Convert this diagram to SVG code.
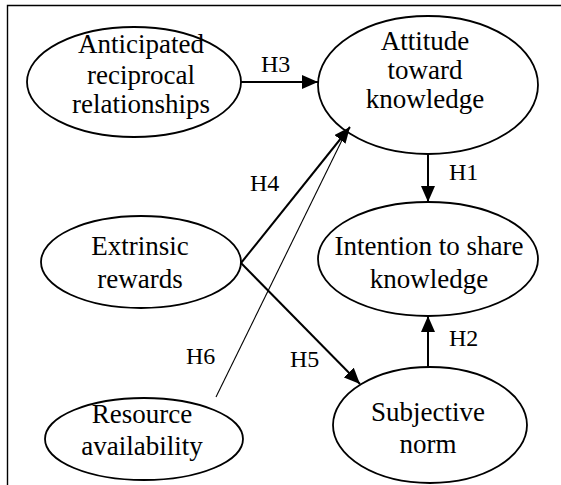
<svg xmlns="http://www.w3.org/2000/svg" width="561" height="485" viewBox="0 0 561 485">
<defs>
<marker id="ah" markerWidth="16" markerHeight="14" refX="16" refY="7" orient="auto" markerUnits="userSpaceOnUse">
<path d="M0,0 L16,7 L0,14 Z" fill="#000"/>
</marker>
<style>
.node ellipse{fill:#fff;stroke:#000;stroke-width:1.8}
.node text{font-family:"Liberation Serif","Times New Roman",serif;font-size:27px;text-anchor:middle;fill:#000}
.lbl{font-family:"Liberation Serif","Times New Roman",serif;font-size:24px;fill:#000}
.edge{stroke:#000;stroke-width:2;fill:none}
.thin{stroke:#000;stroke-width:1.1;fill:none}
</style>
</defs>
<rect width="561" height="485" fill="#fff"/>
<path d="M7.5,485 V5.5 H561" fill="none" stroke="#000" stroke-width="1.4"/>
<g id="anticipated" class="node">
<ellipse cx="134" cy="82" rx="107" ry="55"/>
<text x="141" y="53">Anticipated</text>
<text x="141" y="84">reciprocal</text>
<text x="141" y="113">relationships</text>
</g>
<g id="attitude" class="node">
<ellipse cx="428" cy="85" rx="110" ry="69"/>
<text x="425" y="50">Attitude</text>
<text x="425" y="79">toward</text>
<text x="425" y="108">knowledge</text>
</g>
<g id="extrinsic" class="node">
<ellipse cx="141" cy="262" rx="100" ry="46"/>
<text x="140" y="255">Extrinsic</text>
<text x="140" y="288">rewards</text>
</g>
<g id="intention" class="node">
<ellipse cx="428" cy="259" rx="110" ry="57"/>
<text x="429" y="255">Intention to share</text>
<text x="429" y="288">knowledge</text>
</g>
<g id="resource" class="node">
<ellipse cx="144" cy="439" rx="99" ry="41"/>
<text x="142" y="423">Resource</text>
<text x="142" y="455">availability</text>
</g>
<g id="subjective" class="node">
<ellipse cx="430" cy="425" rx="97" ry="58"/>
<text x="428" y="421">Subjective</text>
<text x="428" y="453">norm</text>
</g>
<g id="connectors">
<line class="edge" x1="241" y1="82" x2="318" y2="82" marker-end="url(#ah)"/>
<line class="edge" x1="428" y1="154" x2="428" y2="202" marker-end="url(#ah)"/>
<line class="edge" x1="428" y1="367" x2="428" y2="316" marker-end="url(#ah)"/>
<line class="edge" x1="241" y1="263" x2="350" y2="127" marker-end="url(#ah)"/>
<line class="thin" x1="216" y1="397" x2="346" y2="132"/>
<line class="edge" x1="241" y1="263" x2="360" y2="384" marker-end="url(#ah)"/>
<text class="lbl" x="261" y="72">H3</text>
<text class="lbl" x="449" y="180">H1</text>
<text class="lbl" x="250" y="191">H4</text>
<text class="lbl" x="449" y="346">H2</text>
<text class="lbl" x="186" y="364">H6</text>
<text class="lbl" x="290" y="367">H5</text>
</g>
</svg>
